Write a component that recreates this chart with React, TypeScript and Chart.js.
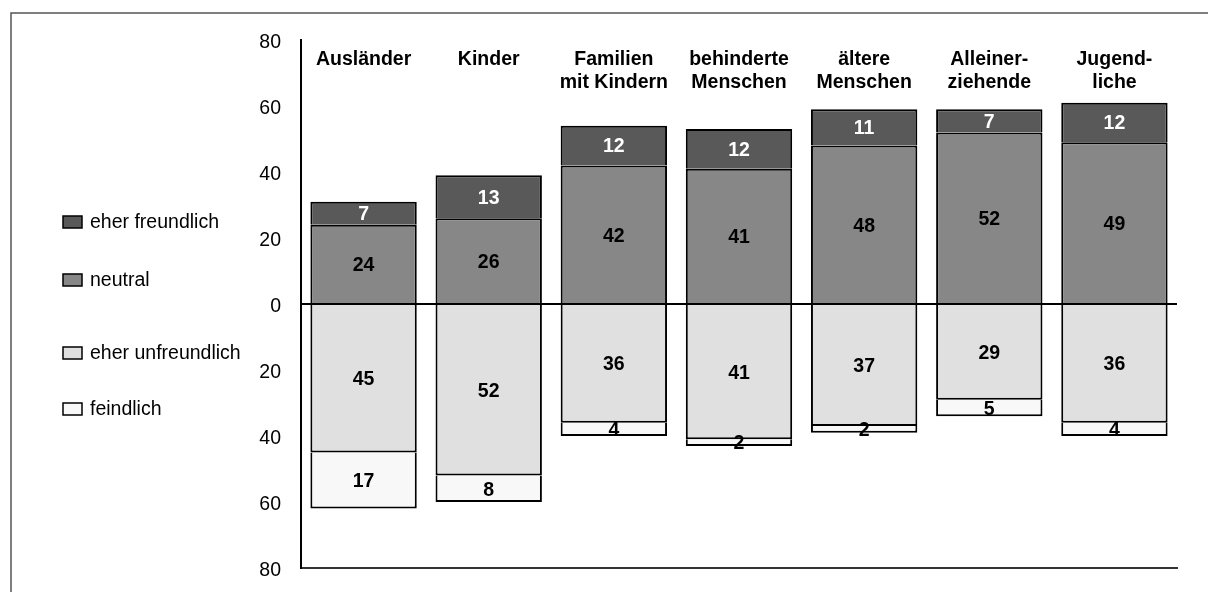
import React, { useEffect, useRef } from "react";
import { Chart, registerables } from "chart.js";

Chart.register(...registerables);

const categories: string[][] = [
  ["Ausländer"],
  ["Kinder"],
  ["Familien", "mit Kindern"],
  ["behinderte", "Menschen"],
  ["ältere", "Menschen"],
  ["Alleiner-", "ziehende"],
  ["Jugend-", "liche"],
];
const eherFreundlich = [7, 13, 12, 12, 11, 7, 12];
const neutral = [24, 26, 42, 41, 48, 52, 49];
const eherUnfreundlich = [45, 52, 36, 41, 37, 29, 36];
const feindlich = [17, 8, 4, 2, 2, 5, 4];
const yTicks = [-80, -60, -40, -20, 0, 20, 40, 60, 80];

const FONT = '"Liberation Sans", Arial, sans-serif';

const legendItems = [
  { label: "eher freundlich", color: "#595959", y: 222 },
  { label: "neutral", color: "#878787", y: 280 },
  { label: "eher unfreundlich", color: "#e0e0e0", y: 353 },
  { label: "feindlich", color: "#f8f8f8", y: 409 },
];

export default function App() {
  const ref = useRef<HTMLCanvasElement | null>(null);

  useEffect(() => {
    if (!ref.current) return;

    const overlay = {
      id: "overlay",
      afterDatasetsDraw(chart: any) {
        const ctx = chart.ctx;
        const area = chart.chartArea;
        const y = chart.scales.y;
        const x = chart.scales.x;
        ctx.save();
        // zero line
        ctx.strokeStyle = "#000";
        ctx.lineWidth = 2;
        ctx.beginPath();
        const y0 = y.getPixelForValue(0);
        ctx.moveTo(area.left, y0);
        ctx.lineTo(area.right, y0);
        ctx.stroke();

        // value labels
        ctx.font = `bold 19.5px ${FONT}`;
        ctx.textAlign = "center";
        ctx.textBaseline = "middle";
        chart.data.datasets.forEach((ds: any, di: number) => {
          const meta = chart.getDatasetMeta(di);
          meta.data.forEach((el: any, i: number) => {
            const v = ds.data[i];
            ctx.fillStyle = ds.labelColor;
            ctx.fillText(String(Math.abs(v)), el.x, (el.y + el.base) / 2 + 1.5);
          });
        });

        // category labels
        ctx.fillStyle = "#000";
        categories.forEach((lines, i) => {
          const cx = x.getPixelForValue(i);
          lines.forEach((t, li) => {
            ctx.fillText(t, cx, 60 + li * 22.4);
          });
        });

        // legend
        ctx.textAlign = "left";
        ctx.font = `19.5px ${FONT}`;
        legendItems.forEach((it) => {
          ctx.fillStyle = it.color;
          ctx.fillRect(63, it.y - 6, 19, 12);
          ctx.strokeStyle = "#000";
          ctx.lineWidth = 1.5;
          ctx.strokeRect(63, it.y - 6, 19, 12);
          ctx.fillStyle = "#000";
          ctx.fillText(it.label, 90, it.y + 1);
        });

        // outer frame
        ctx.strokeStyle = "#555";
        ctx.lineWidth = 1.5;
        ctx.beginPath();
        ctx.moveTo(11, 592);
        ctx.lineTo(11, 13);
        ctx.lineTo(1208, 13);
        ctx.stroke();
        ctx.restore();
      },
    };

    const chart = new Chart(ref.current, {
      type: "bar",
      data: {
        labels: categories.map((c) => c.join(" ")),
        datasets: [
          {
            label: "neutral",
            data: neutral,
            backgroundColor: "#878787",
            labelColor: "#000",
          } as any,
          {
            label: "eher freundlich",
            data: eherFreundlich,
            backgroundColor: "#595959",
            labelColor: "#fff",
          } as any,
          {
            label: "eher unfreundlich",
            data: eherUnfreundlich.map((v) => -v),
            backgroundColor: "#e0e0e0",
            labelColor: "#000",
          } as any,
          {
            label: "feindlich",
            data: feindlich.map((v) => -v),
            backgroundColor: "#f8f8f8",
            labelColor: "#000",
          } as any,
        ],
      },
      options: {
        responsive: false,
        animation: false,
        layout: { padding: { top: 40, bottom: 24, right: 31, left: 0 } },
        datasets: {
          bar: {
            borderColor: "#000",
            borderWidth: 2,
            barPercentage: 0.85,
            categoryPercentage: 1,
          },
        },
        plugins: {
          legend: { display: false },
          tooltip: { enabled: false },
        },
        scales: {
          x: {
            stacked: true,
            ticks: { display: false },
            grid: { display: false, drawTicks: false },
            border: { display: true, color: "#333", width: 2 },
            afterFit: (s: any) => {
              s.height = 0;
              s.paddingLeft = 0;
              s.paddingRight = 0;
            },
          },
          y: {
            stacked: true,
            min: -80,
            max: 80,
            afterBuildTicks: (s: any) => {
              s.ticks = yTicks.map((v) => ({ value: v }));
            },
            ticks: {
              padding: 20,
              labelOffset: 2.5,
              color: "#000",
              font: { family: FONT, size: 19.5 },
              callback: (v: any) => String(Math.abs(Number(v))),
            },
            grid: { display: false, drawTicks: false },
            border: { display: true, color: "#000", width: 2 },
            afterFit: (s: any) => {
              s.width = 301;
              s.paddingTop = 0;
              s.paddingBottom = 0;
            },
          },
        },
      },
      plugins: [overlay],
    });

    return () => chart.destroy();
  }, []);

  return (
    <div style={{ position: "absolute", left: 0, top: 0, width: 1208, height: 592, background: "#fff" }}>
      <canvas ref={ref} width={1208} height={592} style={{ display: "block" }} />
    </div>
  );
}
